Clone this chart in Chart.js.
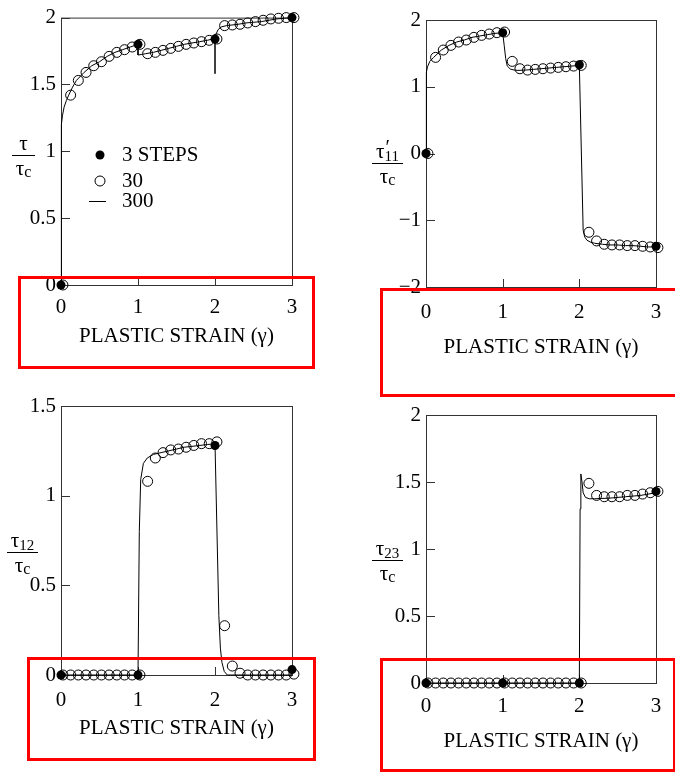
<!DOCTYPE html>
<html><head><meta charset="utf-8">
<script src="https://cdn.jsdelivr.net/npm/chart.js@4.4.0/dist/chart.umd.min.js"></script>
<style>
html,body{margin:0;padding:0;background:#fff;}
#wrap{position:relative;width:675px;height:773px;overflow:hidden;background:#fff;}
canvas{position:absolute;left:0;top:0;}
.rb{position:absolute;border:3px solid #f00;box-sizing:border-box;}
</style></head><body>
<div id="wrap">
<canvas id="c1" width="675" height="773"></canvas>
<canvas id="c2" width="675" height="773"></canvas>
<canvas id="c3" width="675" height="773"></canvas>
<canvas id="c4" width="675" height="773"></canvas>
<div class="rb" style="left:18px;top:276px;width:297px;height:93px"></div>
<div class="rb" style="left:380px;top:288px;width:300px;height:109px"></div>
<div class="rb" style="left:27px;top:657px;width:289px;height:104px"></div>
<div class="rb" style="left:380px;top:658px;width:296px;height:114px"></div>
</div>
<script>
// ---- data ----
const strainTicks = [0, 1, 2, 3];
const xTitle = 'PLASTIC STRAIN (γ)';
const legendLabels = ['3 STEPS', '30', '300'];

const x3 = [0, 1, 2, 3];
const x30 = [0.025,0.125,0.225,0.325,0.425,0.525,0.625,0.725,0.825,0.925,1.025,
             1.125,1.225,1.325,1.425,1.525,1.625,1.725,1.825,1.925,2.025,
             2.125,2.225,2.325,2.425,2.525,2.625,2.725,2.825,2.925,3.025];

// tau / tau_c
const tau3 = [0, 1.80, 1.84, 2.00];
const tau30 = [0, 1.42,1.53,1.59,1.64,1.67,1.71,1.74,1.76,1.78,1.80,
               1.73,1.74,1.755,1.77,1.785,1.80,1.81,1.82,1.83,1.84,
               1.94,1.945,1.95,1.96,1.97,1.98,1.99,1.995,2.0,2.0];
const tauLineX = [0,0,0.005,0.01,0.02,0.04,0.07,0.1,0.15,0.2,0.3,0.4,0.5,0.6,0.7,0.8,0.9,1.0,1.0,1.05,
                  1.1,1.2,1.3,1.4,1.5,1.6,1.7,1.8,1.9,2.0,2.0,2.0,2.04,2.08,2.15,2.3,2.4,2.5,2.6,2.7,2.8,2.9,3.0];
const tauLineY = [0,1.0,1.12,1.2,1.27,1.33,1.38,1.42,1.48,1.53,1.59,1.64,1.67,1.71,1.74,1.76,1.78,1.80,1.72,1.725,
                  1.73,1.74,1.755,1.77,1.785,1.80,1.81,1.82,1.83,1.845,1.58,1.86,1.91,1.93,1.94,1.95,1.96,1.965,1.97,1.98,1.99,1.995,2.0];

// tau'_11 / tau_c
const t11_3 = [0, 1.81, 1.33, -1.39];
const t11_30 = [0, 1.44,1.55,1.62,1.67,1.70,1.74,1.77,1.79,1.81,1.82,
                1.38,1.27,1.25,1.26,1.27,1.28,1.29,1.30,1.31,1.32,
                -1.18,-1.31,-1.36,-1.37,-1.37,-1.38,-1.38,-1.39,-1.40,-1.41];
const t11LineX = [0,0,0.005,0.01,0.02,0.05,0.1,0.2,0.3,0.4,0.5,0.6,0.7,0.8,0.9,1.0,1.02,1.04,1.06,1.1,
                  1.15,1.2,1.3,1.4,1.5,1.6,1.7,1.8,1.9,2.0,2.05,2.07,2.1,2.15,2.2,2.3,2.4,2.5,2.6,2.7,2.8,2.9,3.0];
const t11LineY = [0,1.0,1.15,1.22,1.30,1.38,1.44,1.55,1.62,1.67,1.70,1.74,1.76,1.78,1.80,1.81,1.62,1.42,1.31,1.265,
                  1.25,1.245,1.25,1.26,1.27,1.28,1.29,1.30,1.31,1.32,-1.15,-1.25,-1.30,-1.33,-1.345,-1.36,-1.37,-1.37,-1.38,-1.38,-1.39,-1.40,-1.40];

// tau_12 / tau_c
const t12_3 = [0, 0, 1.28, 0.03];
const t12_30 = [0,0,0,0,0,0,0,0,0,0,0,
                1.08,1.21,1.24,1.255,1.26,1.27,1.28,1.29,1.29,1.30,
                0.275,0.05,0.01,0,0,0,0,0,0,0.005];
const t12LineX = [0,1.0,1.017,1.035,1.07,1.12,1.2,1.3,1.4,1.5,1.6,1.7,1.8,1.9,2.0,2.05,2.07,2.09,2.12,2.16,3.0];
const t12LineY = [0,0,0.8,1.09,1.18,1.21,1.23,1.24,1.25,1.26,1.27,1.275,1.28,1.285,1.29,0.33,0.15,0.07,0.02,0,0];

// tau_23 / tau_c
const t23_3 = [0, 0, 0, 1.43];
const t23_30 = [0,0,0,0,0,0,0,0,0,0,0,
                0,0,0,0,0,0,0,0,0,0,
                1.49,1.40,1.39,1.39,1.39,1.40,1.40,1.41,1.42,1.43];
const t23LineX = [0,2.0,2.01,2.02,2.035,2.05,2.08,2.13,2.2,2.4,2.6,2.8,3.0];
const t23LineY = [0,0,1.3,1.56,1.50,1.42,1.385,1.375,1.375,1.38,1.39,1.40,1.42];

// ---- drawing ----
const FONT = '"Liberation Serif", "Times New Roman", serif';
const FS = 21;
Chart.defaults.font.family = FONT;
Chart.defaults.font.size = FS;
Chart.defaults.color = '#000';

const pts = (xs, ys) => xs.map((x, i) => ({x, y: ys[i]}));

const framePlugin = {
  id: 'frame',
  beforeDatasetsDraw(chart) {
    const {ctx, chartArea: a, scales: {x, y}} = chart;
    ctx.save();
    ctx.strokeStyle = '#333';
    ctx.lineWidth = 1;
    ctx.strokeRect(a.left + 0.5, a.top + 0.5, a.right - a.left, a.bottom - a.top);
    ctx.beginPath();
    y.ticks.forEach(t => { const py = Math.round(y.getPixelForValue(t.value)) + 0.5; ctx.moveTo(a.left, py); ctx.lineTo(a.left + 9, py); });
    x.ticks.forEach(t => { const px = Math.round(x.getPixelForValue(t.value)) + 0.5; ctx.moveTo(px, a.bottom); ctx.lineTo(px, a.bottom - 8); });
    ctx.stroke();
    ctx.restore();
  }
};

const yLabelPlugin = {
  id: 'ylab',
  afterDraw(chart, args, o) {
    const ctx = chart.ctx;
    ctx.save();
    ctx.fillStyle = '#000'; ctx.strokeStyle = '#000'; ctx.lineWidth = 1;
    ctx.beginPath();
    ctx.moveTo(o.cx - o.w / 2, o.ly + 0.5); ctx.lineTo(o.cx + o.w / 2, o.ly + 0.5);
    ctx.stroke();
    ctx.textAlign = 'left'; ctx.textBaseline = 'alphabetic';
    const big = '21px ' + FONT, small = '15px ' + FONT;
    ctx.font = big; const wt = ctx.measureText('τ').width;
    ctx.font = small; const ws = o.sub ? ctx.measureText(o.sub).width : 0;
    let x0 = o.cx - (wt + ws) / 2;
    ctx.font = big; ctx.fillText('τ', x0, o.ly - 5);
    if (o.sub) { ctx.font = small; ctx.fillText(o.sub, x0 + wt, o.ly - 2); }
    if (o.prime) { ctx.font = '20px ' + FONT; ctx.fillText('′', x0 + wt + 1, o.ly - 9); }
    ctx.font = '16px ' + FONT; const wc = ctx.measureText('c').width;
    x0 = o.cx - (wt + wc) / 2;
    ctx.font = big; ctx.fillText('τ', x0, o.ly + 20);
    ctx.font = '16px ' + FONT; ctx.fillText('c', x0 + wt, o.ly + 22);
    ctx.restore();
  }
};

const legendPlugin = {
  id: 'inlegend',
  afterDraw(chart, args, o) {
    if (!o.show) return;
    const ctx = chart.ctx;
    const ds = chart.data.datasets;
    ctx.save();
    ctx.font = FS + 'px ' + FONT; ctx.fillStyle = '#000';
    ctx.textAlign = 'left'; ctx.textBaseline = 'middle';
    ctx.beginPath(); ctx.arc(o.mx, o.y0, ds[0].pointRadius, 0, Math.PI * 2); ctx.fillStyle = '#000'; ctx.fill();
    ctx.fillText(ds[0].label, o.tx, o.y0);
    ctx.beginPath(); ctx.arc(o.mx, o.y1, ds[1].pointRadius, 0, Math.PI * 2); ctx.strokeStyle = '#000'; ctx.lineWidth = 1; ctx.stroke();
    ctx.fillText(ds[1].label, o.tx, o.y1);
    ctx.beginPath(); ctx.moveTo(o.mx - 11, o.y2 + 0.5); ctx.lineTo(o.mx + 6, o.y2 + 0.5); ctx.stroke();
    ctx.fillText(ds[2].label, o.tx, o.y2);
    ctx.restore();
  }
};

function makeChart(id, p) {
  const Y_W = 50;
  new Chart(document.getElementById(id), {
    type: 'scatter',
    data: {
      datasets: [
        { label: legendLabels[0], data: pts(x3, p.d3), showLine: false, pointRadius: 4.5,
          pointBackgroundColor: '#000', pointBorderColor: '#000', pointBorderWidth: 0, clip: false },
        { label: legendLabels[1], data: pts(x30, p.d30), showLine: false, pointRadius: 5,
          pointBackgroundColor: 'rgba(0,0,0,0)', pointBorderColor: '#000', pointBorderWidth: 1, clip: false },
        { label: legendLabels[2], data: pts(p.lx, p.ly), showLine: true, pointRadius: 0,
          borderColor: '#000', borderWidth: 1, tension: 0, clip: false }
      ]
    },
    options: {
      responsive: false, animation: false, devicePixelRatio: 1, events: [],
      layout: { padding: { left: p.L - Y_W, right: 675 - p.R, top: p.T, bottom: 773 - p.B - p.H } },
      scales: {
        x: {
          type: 'linear', min: 0, max: 3,
          afterBuildTicks: s => { s.ticks = strainTicks.map(v => ({value: v})); },
          afterFit: s => { s.height = p.H; },
          ticks: { padding: p.tp, color: '#000', font: { size: FS } },
          grid: { display: false, drawTicks: false }, border: { display: false },
          title: { display: true, text: xTitle, color: '#000', font: { size: FS }, padding: 0 }
        },
        y: {
          type: 'linear', min: p.ymin, max: p.ymax,
          ticks: { stepSize: p.step, padding: 5, color: '#000', font: { size: FS },
                   callback: v => String(v).replace('-', '−') },
          afterFit: s => { s.width = Y_W; },
          grid: { display: false, drawTicks: false }, border: { display: false }
        }
      },
      plugins: {
        legend: { display: false }, tooltip: { enabled: false },
        ylab: p.ylab,
        inlegend: p.leg || { show: false }
      }
    },
    plugins: [framePlugin, yLabelPlugin, legendPlugin]
  });
}

makeChart('c1', { L: 61, R: 292, T: 16, B: 285, H: 64, tp: 10, ymin: 0, ymax: 2, step: 0.5,
  d3: tau3, d30: tau30, lx: tauLineX, ly: tauLineY,
  ylab: { cx: 23.5, ly: 155, w: 23, sub: '', prime: false },
  leg: { show: true, mx: 100, tx: 122, y0: 155, y1: 181, y2: 201 } });
makeChart('c2', { L: 426, R: 656, T: 20, B: 287, H: 73, tp: 13, ymin: -2, ymax: 2, step: 1,
  d3: t11_3, d30: t11_30, lx: t11LineX, ly: t11LineY,
  ylab: { cx: 387.5, ly: 163, w: 31, sub: '11', prime: true } });
makeChart('c3', { L: 61, R: 292, T: 406, B: 675, H: 66, tp: 13, ymin: 0, ymax: 1.5, step: 0.5,
  d3: t12_3, d30: t12_30, lx: t12LineX, ly: t12LineY,
  ylab: { cx: 22.5, ly: 552, w: 31, sub: '12', prime: false } });
makeChart('c4', { L: 426, R: 656, T: 415, B: 683, H: 71, tp: 11, ymin: 0, ymax: 2, step: 0.5,
  d3: t23_3, d30: t23_30, lx: t23LineX, ly: t23LineY,
  ylab: { cx: 387.5, ly: 560, w: 31, sub: '23', prime: false } });
</script>
</body></html>
